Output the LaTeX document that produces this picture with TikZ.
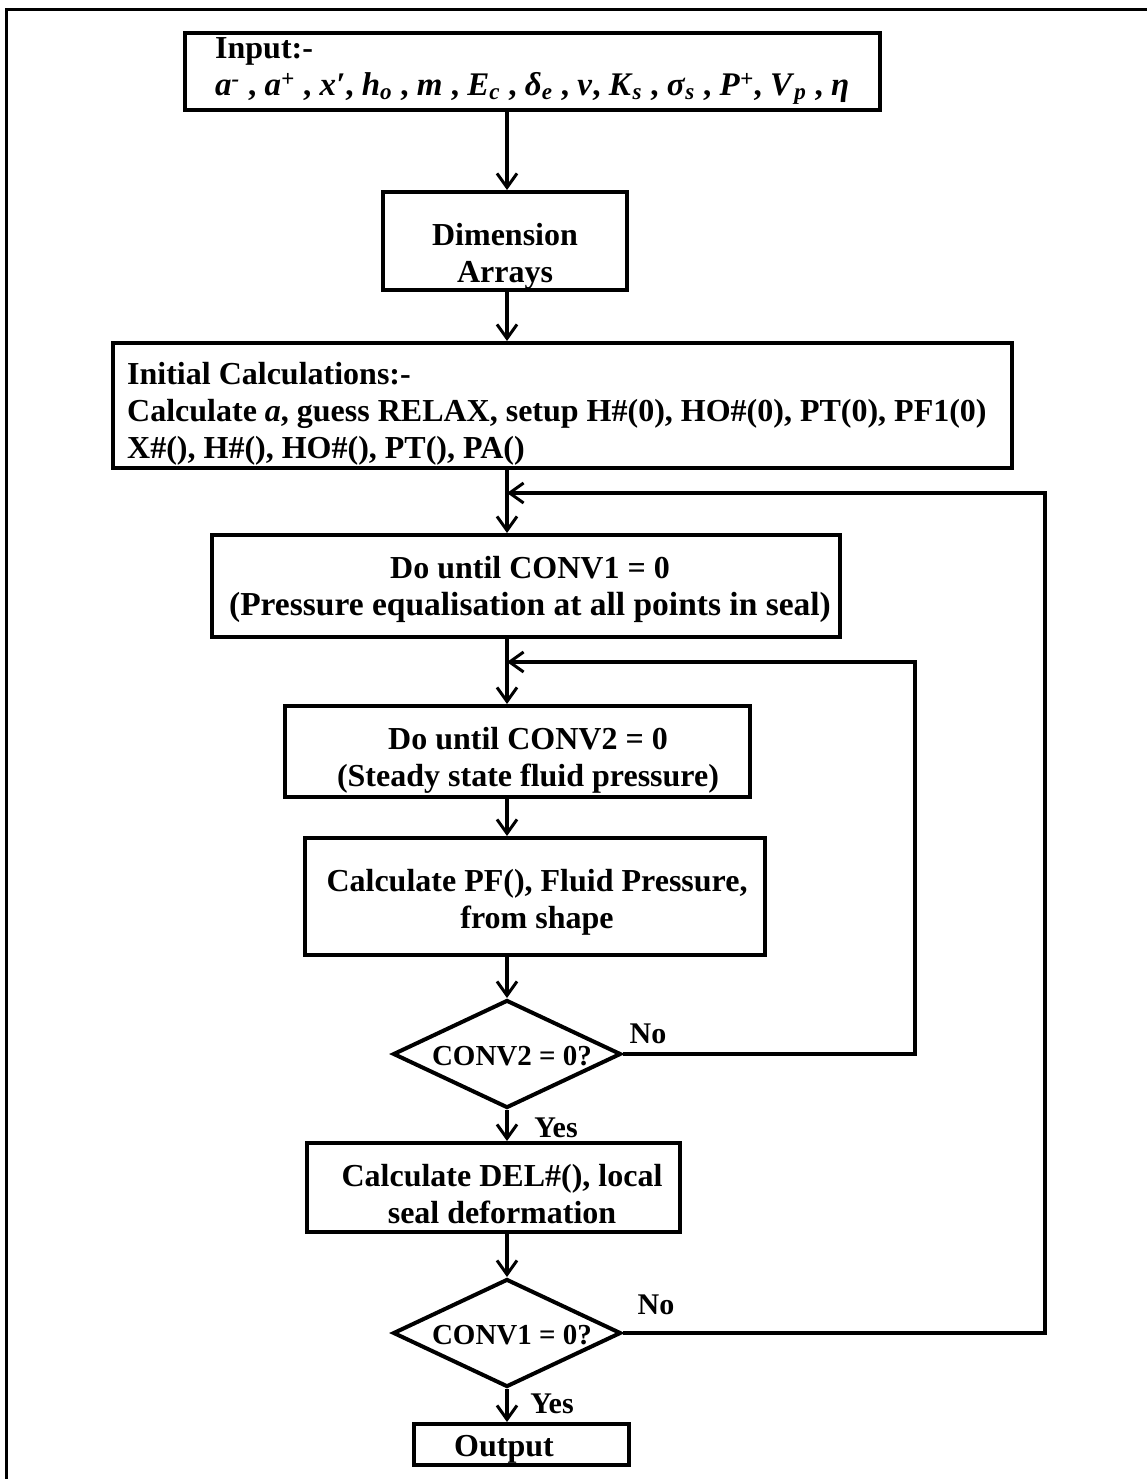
\documentclass[tikz,border=0pt]{standalone}
\usepackage{fontspec}
\setmainfont{Liberation Serif}
\usetikzlibrary{arrows.meta,shapes.geometric}
\newcommand{\bi}[1]{\textbf{\textit{#1}}}
\begin{document}
\begin{tikzpicture}[x=1pt,y=-1pt,
  font=\fontsize{32}{37}\selectfont\bfseries,
  box/.style={draw,line width=4pt,inner sep=0pt},
  tx/.style={inner sep=0pt,align=center},
  dec/.style={diamond,draw,line width=4pt,inner sep=0pt,minimum width=228pt,minimum height=108pt},
  dtext/.style={inner sep=0pt,font=\fontsize{29}{33}\selectfont\bfseries},
  lbl/.style={font=\fontsize{30}{34}\selectfont\bfseries},
  arr/.style={line width=3.5pt,-{Straight Barb[length=14pt,width=20pt,line width=3pt]}},
  ln/.style={line width=3.5pt}]
\useasboundingbox (0,0) rectangle (1147,1479);
\draw[line width=3pt] (6,1479) -- (6,10) -- (1147,10);
\coordinate (spine) at (507,0);

\node[box,minimum width=695pt,minimum height=77pt] (inp) at (532.5,72) {};
\node[tx,align=left,anchor=west] (inpt) at (215,71)
  {Input:-\\
  {\fontsize{33}{37}\selectfont\bi{a}\textsuperscript{\bi{-}} , \bi{a}\textsuperscript{\bi{+}} , \bi{x′}, \bi{h}\textsubscript{\bi{o}} , \bi{m} , \bi{E}\textsubscript{\bi{c}} , \bi{δ}\textsubscript{\bi{e}} , \bi{ν}, \bi{K}\textsubscript{\bi{s}} , \bi{σ}\textsubscript{\bi{s}} , \bi{P}\textsuperscript{\bi{+}}, \bi{V}\textsubscript{\bi{p}} , \bi{η}}};
\node[box,minimum width=244pt,minimum height=98pt] (dim) at (505,241) {};
\node[tx] (dimt) at (505,256) {Dimension\\Arrays};
\node[box,minimum width=899pt,minimum height=125pt] (init) at (562.5,405.5) {};
\node[tx,align=left,anchor=west] (initt) at (127,414)
  {Initial Calculations:-\\
  Calculate \bi{a}, guess RELAX, setup H\#(0), HO\#(0), PT(0), PF1(0)\\
  X\#(), H\#(), HO\#(), PT(), PA()};
\node[box,minimum width=628pt,minimum height=102pt] (do1) at (526,586) {};
\node[tx] (do1t) at (530,589)
  {Do until CONV1 = 0\\ {\fontsize{33.5}{37}\selectfont (Pressure equalisation at all points in seal)}};
\node[box,minimum width=465pt,minimum height=91pt] (do2) at (517.5,751.5) {};
\node[tx] (do2t) at (528,760)
  {Do until CONV2 = 0\\ (Steady state fluid pressure)};
\node[box,minimum width=460pt,minimum height=117pt] (pf) at (535,896.5) {};
\node[tx] (pft) at (537,902) {Calculate PF(), Fluid Pressure,\\ from shape};
\node[dec] (d1) at (507,1054) {};
\node[dtext] (d1t) at (512,1056) {CONV2 = 0?};
\node[box,minimum width=373pt,minimum height=89pt] (del) at (493.5,1187.5) {};
\node[tx] (delt) at (502,1194) {Calculate DEL\#(), local\\ seal deformation};
\node[dec] (d2) at (507,1333) {};
\node[dtext] (d2t) at (512,1335) {CONV1 = 0?};
\node[box,minimum width=215pt,minimum height=41pt] (out) at (521.5,1444.5) {};
\node[tx] (outt) at (504,1449) {Output};

\node[lbl] (no1) at (648,1034) {No};
\node[lbl] (yes1) at (556,1128) {Yes};
\node[lbl] (no2) at (656,1305) {No};
\node[lbl] (yes2) at (552,1404) {Yes};

\coordinate (j1) at (507,493);
\coordinate (r1) at (1045,493);
\coordinate (j2) at (507,662);
\coordinate (r2) at (915,662);

\draw[arr] (spine |- inp.south) -- (spine |- dim.north);
\draw[arr] (spine |- dim.south) -- (spine |- init.north);
\draw[arr] (spine |- init.south) -- (spine |- do1.north);
\draw[arr] (spine |- do1.south) -- (spine |- do2.north);
\draw[arr] (spine |- do2.south) -- (spine |- pf.north);
\draw[arr] (spine |- pf.south) -- (d1.north);
\draw[arr] (d1.south) -- (spine |- del.north);
\draw[arr] (spine |- del.south) -- (d2.north);
\draw[arr] (d2.south) -- (spine |- out.north);
\draw[arr] (d1.east) -- (d1.east -| r2) -- (r2) -- (j2);
\draw[arr] (d2.east) -- (d2.east -| r1) -- (r1) -- (j1);
\end{tikzpicture}
\end{document}
